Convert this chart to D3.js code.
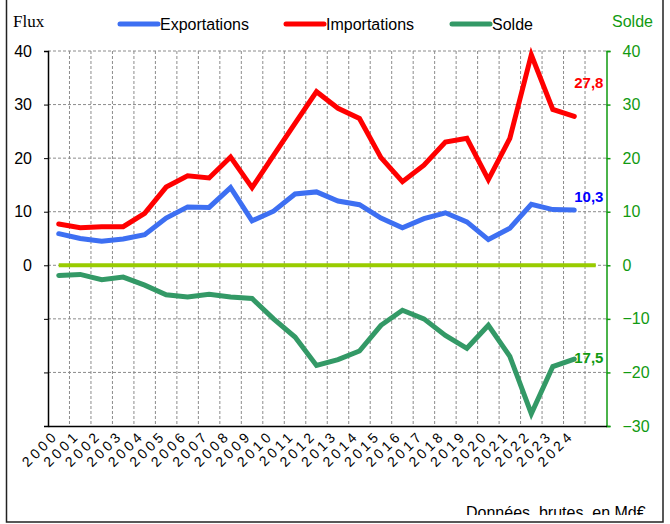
<!DOCTYPE html>
<html>
<head>
<meta charset="utf-8">
<script src="https://cdn.jsdelivr.net/npm/d3@7"></script>
<style>
  body { margin: 0; background: #fff; }
  svg { display: block; font-family: Arial, "Liberation Sans", sans-serif; }
</style>
</head>
<body>
<script>
// categories (last slot is empty, the zero line runs to it)
var years = ["2000","2001","2002","2003","2004","2005","2006","2007","2008","2009",
             "2010","2011","2012","2013","2014","2015","2016","2017","2018","2019",
             "2020","2021","2022","2023","2024","2025"];
var yearLabels = years.slice(0, 25);

// Md€
var exportations = [5.9,5.0,4.5,4.9,5.7,8.8,10.9,10.8,14.5,8.3,10.1,13.3,13.7,12.0,11.3,8.8,7.0,8.7,9.8,8.1,4.8,6.9,11.4,10.4,10.3];
var importations = [7.7,7.0,7.2,7.2,9.7,14.6,16.7,16.3,20.2,14.5,20.5,26.5,32.4,29.3,27.4,20.1,15.6,18.7,23.0,23.7,16.0,23.7,39.3,29.1,27.8];
var solde        = [-1.9,-1.7,-2.7,-2.2,-3.7,-5.5,-5.9,-5.4,-5.9,-6.2,-10.0,-13.4,-18.7,-17.6,-16.0,-11.2,-8.4,-10.0,-13.1,-15.5,-11.2,-17.0,-27.7,-18.9,-17.5];

var leftTicks  = [-30,-20,-10,0,10,20,30,40];
var rightTicks = [-30,-20,-10,0,10,20,30,40];

var W = 670, H = 524;
var pLeft = 48, pRight = 606.5, pTop = 51, pBottom = 426;

var svg = d3.select("body").append("svg")
    .attr("width", W)
    .attr("height", H);

var x = d3.scaleBand().domain(years).range([pLeft, pRight]).padding(0);
var y = d3.scaleLinear().domain([-30, 40]).range([pBottom, pTop]);
var cx = function(d) { return x(d) + x.bandwidth() / 2; };

var fr = d3.formatLocale({decimal: ",", thousands: " ", grouping: [3], currency: ["", "€"]}).format(".1f");

// grid
var grid = svg.append("g").attr("stroke", "#8c8c8c").attr("stroke-dasharray", "3,2").attr("stroke-width", 1);
grid.selectAll(".hg")
    .data(leftTicks.filter(function(t) { return t > -30; }))
  .enter().append("line")
    .attr("x1", pLeft).attr("x2", pRight)
    .attr("y1", function(d) { return y(d); })
    .attr("y2", function(d) { return y(d); });
grid.selectAll(".vg")
    .data(years.slice(1))
  .enter().append("line")
    .attr("x1", function(d) { return x(d); })
    .attr("x2", function(d) { return x(d); })
    .attr("y1", pTop).attr("y2", pBottom);

// left axis
var axL = svg.append("g")
    .attr("transform", "translate(" + pLeft + ",0)")
    .call(d3.axisLeft(y).tickValues(leftTicks).tickSize(4).tickPadding(12)
      .tickFormat(function(d) { return d >= 0 ? d : ""; }));
axL.select(".domain").attr("stroke", "#000").attr("stroke-width", 1.5);
axL.selectAll("text").style("font-size", "16px").attr("fill", "#000");

// right axis
var axR = svg.append("g")
    .attr("transform", "translate(" + pRight + ",0)")
    .call(d3.axisRight(y).tickValues(rightTicks).tickSize(4).tickPadding(12));
axR.selectAll("line, .domain").attr("stroke", "#119a11").attr("stroke-width", 1.5);
axR.selectAll("text").style("font-size", "16px").attr("fill", "#119a11");

// bottom axis
var axB = svg.append("g")
    .attr("transform", "translate(0," + pBottom + ")")
    .call(d3.axisBottom(x).tickValues(yearLabels).tickSize(0).tickSizeOuter(0));
axB.select(".domain").attr("stroke", "#000").attr("stroke-width", 1.5);
axB.selectAll("text")
    .style("font-size", "14px")
    .style("letter-spacing", "3.3px")
    .attr("fill", "#000")
    .attr("text-anchor", "end")
    .attr("x", 0).attr("y", 0).attr("dy", "0.35em")
    .attr("transform", "translate(-3,7) rotate(-45)");

// zero line
svg.append("line")
    .attr("x1", cx(years[0])).attr("x2", cx(years[years.length - 1]))
    .attr("y1", y(0)).attr("y2", y(0))
    .attr("stroke", "#99cc00").attr("stroke-width", 4);

var series = [
  {name: "Exportations", values: exportations, color: "#3d6ff2", label: "#0000ff", dy: -8},
  {name: "Importations", values: importations, color: "#ff0000", label: "#ff0000", dy: -28},
  {name: "Solde",        values: solde,        color: "#339966", label: "#119a11", dy: 4}
];

var line = d3.line()
    .x(function(d, i) { return cx(years[i]); })
    .y(function(d) { return y(d); });

svg.selectAll(".serie")
    .data(series)
  .enter().append("path")
    .attr("d", function(d) { return line(d.values); })
    .attr("fill", "none")
    .attr("stroke", function(d) { return d.color; })
    .attr("stroke-width", 5)
    .attr("stroke-linecap", "round")
    .attr("stroke-linejoin", "miter");

// end labels
svg.selectAll(".endlab")
    .data(series)
  .enter().append("text")
    .attr("x", function(d) { return cx(years[d.values.length - 1]); })
    .attr("y", function(d) { return y(d.values[d.values.length - 1]) + d.dy; })
    .attr("fill", function(d) { return d.label; })
    .style("font-size", "15px")
    .style("font-weight", "bold")
    .text(function(d) { return fr(Math.abs(d.values[d.values.length - 1])); });

// legend
var legX = [120, 286, 452];
var leg = svg.selectAll(".leg")
    .data(series)
  .enter().append("g")
    .attr("transform", function(d, i) { return "translate(" + legX[i] + ",24)"; });
leg.append("line")
    .attr("x1", 0).attr("x2", 38)
    .attr("stroke", function(d) { return d.color; })
    .attr("stroke-width", 5)
    .attr("stroke-linecap", "round");
leg.append("text")
    .attr("x", 40).attr("y", 5.5)
    .style("font-size", "16px")
    .text(function(d) { return d.name; });

// axis titles
svg.append("text")
    .attr("x", 13).attr("y", 27)
    .style("font-family", "'Liberation Serif', 'DejaVu Serif', serif")
    .style("font-size", "17px")
    .text("Flux");
svg.append("text")
    .attr("x", 612).attr("y", 27)
    .attr("fill", "#119a11")
    .style("font-size", "16px")
    .text("Solde");

// source, clipped at the frame
svg.append("clipPath").attr("id", "cut")
  .append("rect").attr("x", 0).attr("y", 0).attr("width", W).attr("height", 515);
svg.append("text")
    .attr("x", 466).attr("y", 518)
    .attr("clip-path", "url(#cut)")
    .style("font-size", "16px")
    .style("white-space", "pre")
    .text("Données  brutes  en Md€");

// frame
svg.append("path")
    .attr("d", "M6.5,0V522H663V0")
    .attr("fill", "none")
    .attr("stroke", "#222")
    .attr("stroke-width", 1.5);
</script>
</body>
</html>
